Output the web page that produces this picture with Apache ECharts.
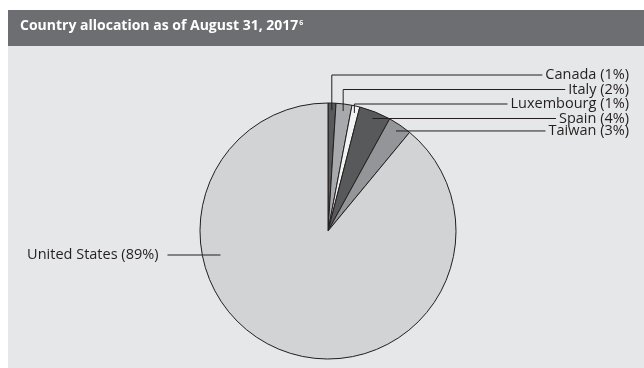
<!DOCTYPE html>
<html>
<head>
<meta charset="utf-8">
<script src="https://cdn.jsdelivr.net/npm/echarts@6/dist/echarts.min.js"></script>
<style>
  html, body { margin: 0; padding: 0; background: #fff; }
  #chart { width: 644px; height: 368px; }
</style>
</head>
<body>
<div id="chart"></div>
<script>
    // data
    var countries = ['Canada', 'Italy', 'Luxembourg', 'Spain', 'Taiwan', 'United States'];
    var weights = [1, 2, 1, 4, 3, 89];
    var colors = ['#58595b', '#a7a9ac', '#f1f2f2', '#58595b', '#939598', '#d1d3d4'];

    var W = 644, H = 368;
    var cx = 328, cy = 231, R = 128;
    var labelRight = 629;      // right edge of the right-hand labels
    var lineGap = 14.5;        // spacing of the stacked labels
    var fontLabel = '"Open Sans", sans-serif';

    var myChart = echarts.init(document.getElementById('chart'), null, {renderer: 'canvas'});

    var pieData = [];
    var labelData = [];
    var total = 0;
    for (var i = 0; i < countries.length; i++) {
        total += weights[i];
        pieData.push({
            name: countries[i],
            value: weights[i],
            itemStyle: {color: colors[i]}
        });
        labelData.push({name: countries[i], value: weights[i]});
    }

    // point inside each slice on its middle angle (clockwise from 12 o'clock)
    var anchors = [];
    var acc = 0;
    for (var j = 0; j < weights.length; j++) {
        var mid = (acc + weights[j] / 2) / total * Math.PI * 2;
        acc += weights[j];
        var r = R * 0.945;
        anchors.push([cx + r * Math.sin(mid), cy - r * Math.cos(mid)]);
    }

    var option = {
        backgroundColor: '#ffffff',
        animation: false,
        graphic: [
            {type: 'rect', shape: {x: 8, y: 46, width: W - 8, height: H - 46}, style: {fill: '#e6e7e8'}, z: -1},
            {type: 'rect', shape: {x: 8, y: 10, width: W - 8, height: 36}, style: {fill: '#6d6e71'}, z: -1}
        ],
        title: {
            text: '{t|Country allocation as of August 31, 2017}{s|6}',
            left: 20,
            top: 19,
            padding: 0,
            textStyle: {
                rich: {
                    t: {color: '#fff', fontSize: 14, fontWeight: 'bold', fontFamily: fontLabel},
                    s: {color: '#fff', fontSize: 7, fontFamily: fontLabel, verticalAlign: 'top', padding: [0, 0, 8, 1]}
                }
            }
        },
        series: [
            // the slices
            {
                type: 'pie',
                center: [cx, cy],
                radius: [0, R],
                startAngle: 90,
                clockwise: true,
                data: pieData,
                itemStyle: {borderColor: '#231f20', borderWidth: 1},
                label: {show: false},
                labelLine: {show: false},
                emphasis: {disabled: true},
                silent: true
            },
            // labels and leader lines, drawn above the slices
            {
                type: 'pie',
                z: 5,
                center: [cx, cy],
                radius: [0, R],
                startAngle: 90,
                clockwise: true,
                data: labelData,
                itemStyle: {color: 'rgba(0,0,0,0)', borderWidth: 0},
                label: {
                    show: true,
                    position: 'outside',
                    formatter: '{b} ({c}%)',
                    color: '#231f20',
                    fontSize: 14.5,
                    fontFamily: fontLabel
                },
                labelLine: {show: true, lineStyle: {color: '#231f20', width: 1}},
                emphasis: {disabled: true},
                silent: true,
                labelLayout: function (params) {
                    var idx = params.dataIndex;
                    var w = params.labelRect.width;
                    if (idx === countries.length - 1) {
                        // left-hand label for the big slice
                        var ly = cy + 24;
                        var lx = cx - R * 0.84;
                        return {
                            x: lx - 62, y: ly, align: 'right', verticalAlign: 'middle',
                            labelLinePoints: [[lx, ly], [lx, ly], [lx - 53, ly]]
                        };
                    }
                    // stacked right-hand labels
                    var s = anchors[idx];
                    var order = countries.length - 2 - idx; // 0 for Taiwan
                    var y = cy - 98 - order * lineGap;
                    var ly2 = Math.min(y, s[1]);
                    return {
                        x: labelRight, y: ly2, align: 'right', verticalAlign: 'middle',
                        labelLinePoints: [[s[0], s[1]], [s[0], ly2], [labelRight - w - 3, ly2]]
                    };
                }
            }
        ]
    };

    myChart.setOption(option);
    window.onresize = myChart.resize;
</script>
</body>
</html>
